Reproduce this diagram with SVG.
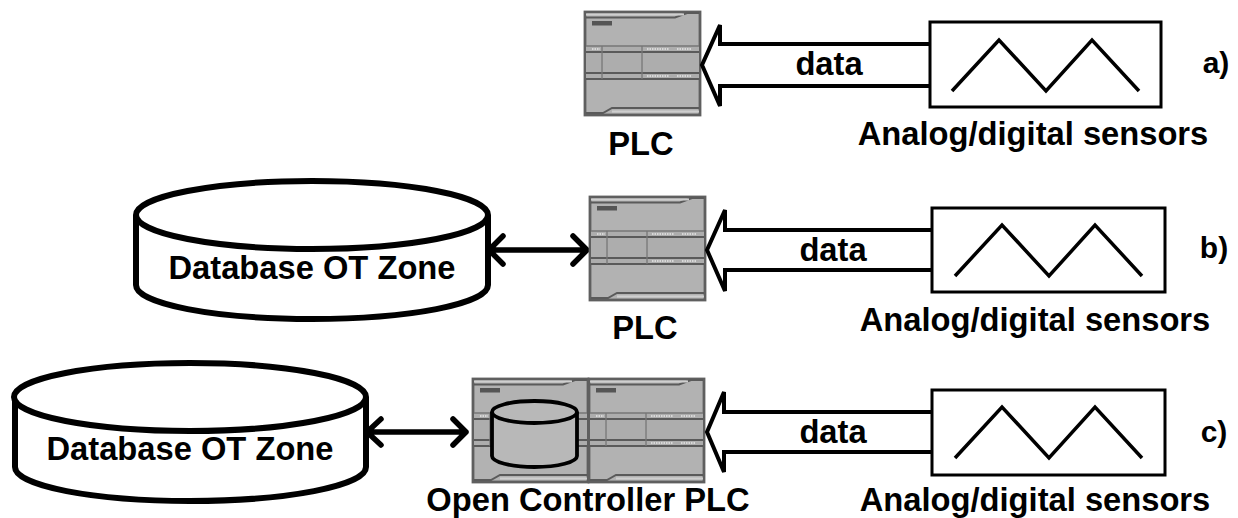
<svg xmlns="http://www.w3.org/2000/svg" xmlns:xlink="http://www.w3.org/1999/xlink" width="1238" height="518" viewBox="0 0 1238 518">
<style>
text{font-family:"Liberation Sans",Arial,sans-serif;font-weight:700;fill:#000;font-size:32.700px;text-anchor:middle}
text.tag{font-size:30px}
.box{fill:#fff;stroke:#000;stroke-width:3}
.zig{fill:none;stroke:#000;stroke-width:3.5}
.flow{fill:#fff;stroke:#000;stroke-width:4;stroke-linejoin:miter}
.cyl{fill:#fff;stroke:#000;stroke-width:6}
.small{fill:#b8b8b8;stroke:#000;stroke-width:3.8}
.link{fill:none;stroke:#000;stroke-width:5.500;stroke-linecap:round;stroke-linejoin:round}
.l{stroke:#5a5a5a;stroke-width:2;fill:none}
.t{stroke:#777;stroke-width:1.3;fill:none}
.d{stroke:#e8e8e8;stroke-width:1.6;stroke-dasharray:1.5 1;fill:none}
</style>
<defs>
<g id="plc">
<rect x="1" y="1" width="115" height="103" fill="#b2b2b2" stroke="#5f5f5f" stroke-width="2.800"/>
<path d="M2 6.500H91L103 2H115" class="l"/>
<path d="M2 3.500H100" stroke="#cfcfcf" stroke-width="2" fill="none"/>
<path d="M2 102H19L28 97H115" class="l"/>
<path d="M28 100.500H115" stroke="#cfcfcf" stroke-width="2" fill="none"/>
<rect x="8" y="10" width="20" height="4.500" fill="#555"/>
<rect x="2" y="35" width="113" height="33" fill="#adadad"/>
<path d="M2 35H115M2 62H115" class="t"/>
<path d="M2 41H115M2 62H115M2 68H115" class="l"/>
<path d="M18 35V68M58 35V68" class="t"/>
<path d="M8 38H16M63 38H85M93 38H108M63 65H85M93 65H108" class="d"/>
</g>
</defs>
<g id="connectors">
<path class="link" d="M487 250H587M503 236L489 250L503 264M573 236L587 250L573 264"/>
<path class="link" d="M367 432H466M381 419L367 432L381 445M453 419L466 432L453 445"/>
</g>
<g id="row-a">
<use xlink:href="#plc" href="#plc" x="584" y="11"/>
<path class="flow" d="M930 44H720V25L702 65L720 106V86H930"/>
<rect class="box" x="930" y="22" width="231" height="85"/>
<path class="zig" d="M952 91L999 40L1046 91L1092 40L1139 91"/>
<text x="829" y="75">data</text>
<text x="641" y="155">PLC</text>
<text x="1033" y="145">Analog/digital sensors</text>
<text class="tag" x="1216" y="73">a)</text>
</g>
<g id="row-b">
<use xlink:href="#plc" href="#plc" x="589" y="196"/>
<path class="flow" d="M932 230H725V210L707 250L725 291V270H932"/>
<rect class="box" x="932" y="208" width="233" height="84"/>
<path class="zig" d="M955 276L1002 225L1049 276L1095 225L1142 276"/>
<text x="833" y="261">data</text>
<text x="645" y="339">PLC</text>
<text x="1035" y="331">Analog/digital sensors</text>
<text class="tag" x="1214" y="258">b)</text>
<g id="db-b">
<path class="cyl" d="M136 215V285C136 304 215 319 312 319S488 304 488 285V215"/>
<ellipse class="cyl" cx="312" cy="215" rx="176" ry="34"/>
<text x="312" y="279">Database OT Zone</text>
</g>
</g>
<g id="row-c">
<use xlink:href="#plc" href="#plc" x="472" y="378"/>
<use xlink:href="#plc" href="#plc" x="588" y="378"/>
<g id="db-small">
<path class="small" d="M492 412V456C492 462 511 467 534.500 467S577 462 577 456V412"/>
<ellipse class="small" cx="534.500" cy="412" rx="42.500" ry="11"/>
</g>
<path class="flow" d="M932 412H724V392L707 432L724 472V452H932"/>
<rect class="box" x="932" y="390" width="233" height="85"/>
<path class="zig" d="M955 458L1002 407L1049 458L1095 407L1142 458"/>
<text x="833" y="443">data</text>
<text x="588" y="511">Open Controller PLC</text>
<text x="1035" y="511">Analog/digital sensors</text>
<text class="tag" x="1214" y="442">c)</text>
<g id="db-c">
<path class="cyl" d="M15 397V467C15 486 94 501 190 501S366 486 366 467V397"/>
<ellipse class="cyl" cx="190" cy="397" rx="176" ry="34"/>
<text x="190" y="460">Database OT Zone</text>
</g>
</g>
</svg>
